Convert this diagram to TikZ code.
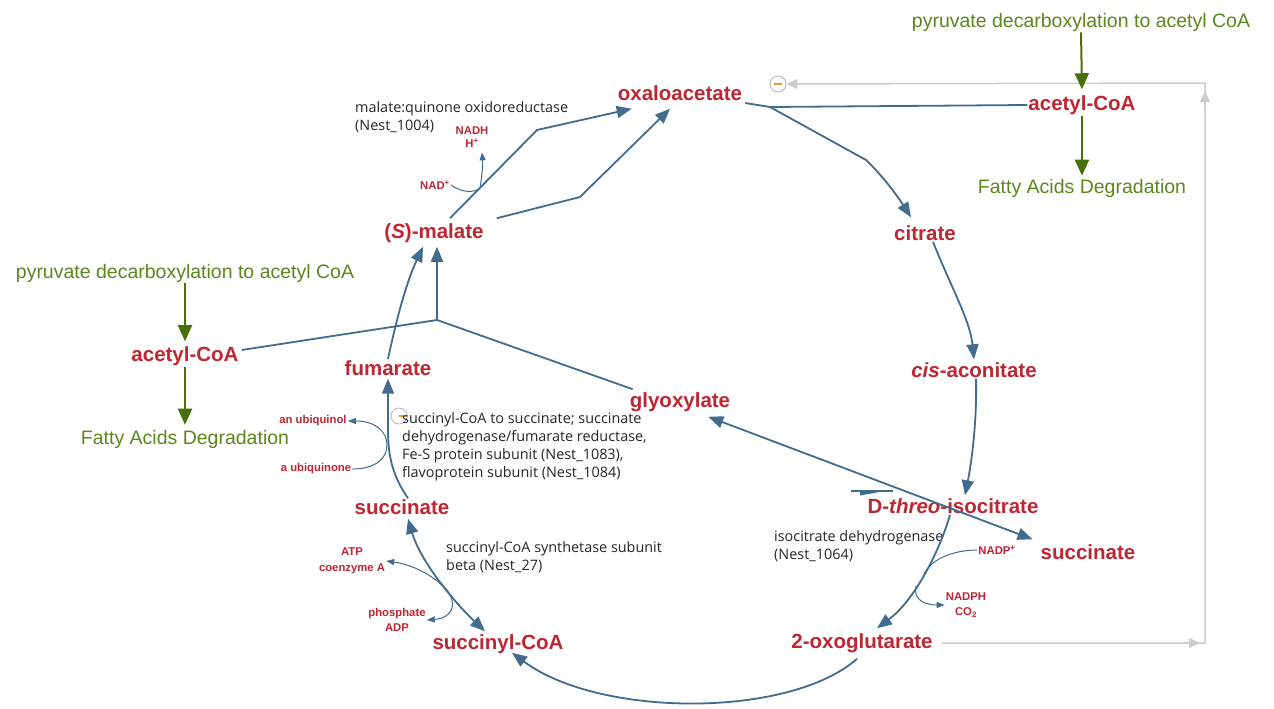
\documentclass[tikz,border=0pt]{standalone}
\usepackage{fontspec}
\setmainfont{Liberation Sans}
\newfontfamily\annfam{Open Sans}
\usetikzlibrary{arrows.meta,calc}
\definecolor{metred}{RGB}{190,38,50}
\definecolor{grtext}{RGB}{92,134,30}
\definecolor{grarr}{RGB}{72,112,8}
\definecolor{rxblue}{RGB}{66,108,142}
\definecolor{lgray}{RGB}{205,205,205}
\definecolor{inhor}{RGB}{222,160,50}
\tikzset{
 met/.style={text=metred, font=\fontsize{20.5}{22}\selectfont\bfseries, inner sep=1pt},
 grn/.style={text=grtext, font=\fontsize{19.5}{22}\selectfont, inner sep=1pt},
 ann/.style={font=\annfam\fontsize{14.4}{18}\selectfont, align=left, anchor=north west, inner sep=0pt, text=black!85},
 cof/.style={text=metred, font=\fontsize{11.3}{15.5}\selectfont\bfseries, align=center, inner sep=1pt},
 rx/.style={draw=rxblue, line width=1.8pt, -{Triangle[length=15pt,width=12pt]}},
 rxline/.style={draw=rxblue, line width=1.8pt},
 rxboth/.style={draw=rxblue, line width=1.8pt, {Triangle[length=15pt,width=12pt]}-{Triangle[length=15pt,width=12pt]}},
 cofarr/.style={draw=rxblue, line width=1pt, -{Triangle[length=8pt,width=6pt]}},
 cofline/.style={draw=rxblue, line width=1pt},
 garr/.style={draw=grarr, line width=2pt, -{Triangle[length=16pt,width=14pt]}},
 gline/.style={draw=lgray, line width=1.5pt},
 gtip/.style={draw=lgray, line width=1.5pt, -{Triangle[length=11pt,width=10pt]}},
 inh/.style={circle, draw=gray!60, minimum size=16pt, inner sep=0pt, line width=0.8pt},
 minus/.style={draw=inhor, line width=2pt},
}
\begin{document}
\begin{tikzpicture}[x=1pt,y=-1pt]
\path[use as bounding box, fill=white] (0,0) rectangle (1274,709);

% metabolites
\node[met] (oxa) at (680,93) {oxaloacetate};
\node[met] (acoR) at (1082,105) {acetyl-CoA};
\node[grn] (pyrR) at (1081,22) {pyruvate decarboxylation to acetyl CoA};
\node[grn] (fadR) at (1082,188) {Fatty Acids Degradation};
\node[met] (cit) at (925,233) {citrate};
\node[met] (cis) at (974,370) {\textit{cis}-aconitate};
\node[met] (iso) at (953,506) {D-\textit{threo}-isocitrate};
\node[met] (sucR) at (1088,552) {succinate};
\node[met] (oxg) at (862,643) {2-oxoglutarate};
\node[met] (scoa) at (498,644) {succinyl-CoA};
\node[met] (sucL) at (402,507) {succinate};
\node[met] (fum) at (388,368) {fumarate};
\node[met] (mal) at (434,233) {(\textit{S})-malate};
\node[met] (gly) at (680,402) {glyoxylate};
\node[met] (acoL) at (185,356) {acetyl-CoA};
\node[grn] (pyrL) at (185,273) {pyruvate decarboxylation to acetyl CoA};
\node[grn] (fadL) at (185,439) {Fatty Acids Degradation};

% cofactors
\node[cof] (nadh) at (472,137) {NADH\\[-3pt]H\textsuperscript{+}};
\node[cof] (nad) at (435,185) {NAD\textsuperscript{+}};
\node[cof] (ubqol) at (313,421) {an ubiquinol};
\node[cof] (ubqne) at (316,469) {a ubiquinone};
\node[cof] (atp) at (352,561) {ATP\\coenzyme A};
\node[cof] (pho) at (397,620) {phosphate\\ADP};
\node[cof] (nadp) at (997,550) {NADP\textsuperscript{+}};
\node[cof] (nadph) at (966,605) {NADPH\\CO\textsubscript{2}};

% inhibition marks
\node[inh, fill=white] (inhA) at (778,84) {};
\draw[minus] ($(inhA.center)+(-4,0)$) -- ($(inhA.center)+(4,0)$);
\node[inh] (inhB) at (399,416) {};
\draw[minus] ($(inhB.center)+(0,0)$) -- ($(inhB.center)+(7,0)$);

% annotations
\node[ann] (a1) at (355,101) {malate:quinone oxidoreductase\\(Nest\_1004)};
\node[ann] (a2) at (402,412) {succinyl-CoA to succinate; succinate\\dehydrogenase/fumarate reductase,\\Fe-S protein subunit (Nest\_1083),\\flavoprotein subunit (Nest\_1084)};
\node[ann] (a3) at (446,541) {succinyl-CoA synthetase subunit\\beta (Nest\_27)};
\node[ann] (a4) at (774,530) {isocitrate dehydrogenase\\(Nest\_1064)};

% gray feedback
\coordinate (gA) at (1205,643);
\coordinate (gB) at (1205,83);
\draw[gline, -{Triangle[length=11pt,width=10pt]}] ($(oxg.east)+(8,0)$) -- (gA) -- (gB) -- (inhA.east);
\draw[gtip] ($(gA)+(-22,0)$) -- ($(gA)+(-5,0)$);
\draw[gtip] ($(gB)+(0,26)$) -- ($(gB)+(0,8)$);

% green
\draw[garr] (pyrR.south) -- ($(acoR.north)+(0,-5)$);
\draw[garr] (acoR.south) -- ($(fadR.north)+(0,-2)$);
\draw[garr] (pyrL.south) -- ($(acoL.north)+(0,-4)$);
\draw[garr] (acoL.south) -- ($(fadL.north)+(0,-4)$);

% oxaloacetate + acetyl-CoA -> citrate
\coordinate (c1) at (770,107);
\coordinate (c2) at (866,160);
\draw[rxline] (acoR.west) -- (c1);
\draw[rx] ($(oxa.east)+(2,10)$) -- (c1) -- (c2) .. controls (885,178) and (900,200) .. ($(cit.north)+(-14,-7)$);
% citrate -> cis-aconitate
\draw[rx] ($(cit.south)+(8,0)$) .. controls (950,285) and (970,320) .. ($(cis.north)+(0,-2)$);
% cis-aconitate -> isocitrate
\draw[rx] ($(cis.south)+(2,0)$) .. controls (977,420) and (972,460) .. ($(iso.north)+(12,-2)$);
% isocitrate -> 2-oxoglutarate
\draw[rx] ($(iso.south)+(-3,0)$) .. controls (940,550) and (915,600) .. ($(oxg.north)+(15,-4)$);
\coordinate (jn1) at (924,574);
\coordinate (jn2) at (916,586);
\draw[cofline] (nadp.west) .. controls (955,550) and (932,558) .. (jn1);
\draw[cofarr] (jn2) .. controls (913,600) and (925,605) .. (nadph.west);
% isocitrate -> glyoxylate + succinate
\draw[rxboth] ($(gly.south east)+(-23,4)$) -- ($(sucR.north west)+(-7,-4)$);
\draw[rxline] (851,491) -- (893,491);
\fill[rxblue] (860,491) -- (885,491) -- (860,495.5) -- cycle;
% 2-oxoglutarate -> succinyl-CoA
\draw[rx] ($(oxg.south)+(-5,5)$) .. controls (790,718) and (600,718) .. ($(scoa.south)+(14,-2)$);
% succinyl-CoA <-> succinate
\draw[rxboth] ($(sucL.south)+(6,3)$) .. controls (420,560) and (452,600) .. ($(scoa.north)+(-13,-2)$);
\coordinate (jsc) at (447,590);
\draw[cofarr] (jsc) .. controls (435,577) and (415,565) .. (atp.east);
\draw[cofarr] (jsc) .. controls (458,605) and (452,618) .. (pho.east);
% succinate -> fumarate
\draw[rx] ($(sucL.north)+(6,0)$) .. controls (392,475) and (388,455) .. (388,430) -- ($(fum.south)+(0,2)$);
\coordinate (jub) at (387,445);
\draw[cofarr] (ubqne.east) .. controls (376,469) and (387,458) .. (jub) .. controls (387,432) and (376,421) .. (ubqol.east);
% fumarate -> (S)-malate
\draw[rx] (fum.north) .. controls (394,330) and (405,285) .. ($(mal.south)+(-11,3)$);
% glyoxylate + acetyl-CoA -> (S)-malate
\coordinate (j2) at (437,320);
\draw[rxline] ($(acoL.east)+(2,-6)$) -- (j2);
\draw[rxline] ($(gly.north west)+(4,-2)$) -- (j2);
\draw[rx] (j2) -- ($(mal.south)+(3,3)$);
% (S)-malate -> oxaloacetate
\coordinate (m1) at (537,130);
\coordinate (m2) at (580,197);
\draw[rx] ($(mal.north)+(16,-4)$) -- (m1) -- ($(oxa.south west)+(15,7)$);
\draw[rx] ($(mal.north east)+(12,-4)$) -- (m2) -- ($(oxa.south)+(-10,7)$);
\coordinate (jnad) at (480,188);
\draw[cofarr] (nad.east) .. controls (462,193) and (474,193) .. (jnad) .. controls (482,175) and (483,165) .. ($(nadh.south)+(10,4)$);
\end{tikzpicture}
\end{document}
